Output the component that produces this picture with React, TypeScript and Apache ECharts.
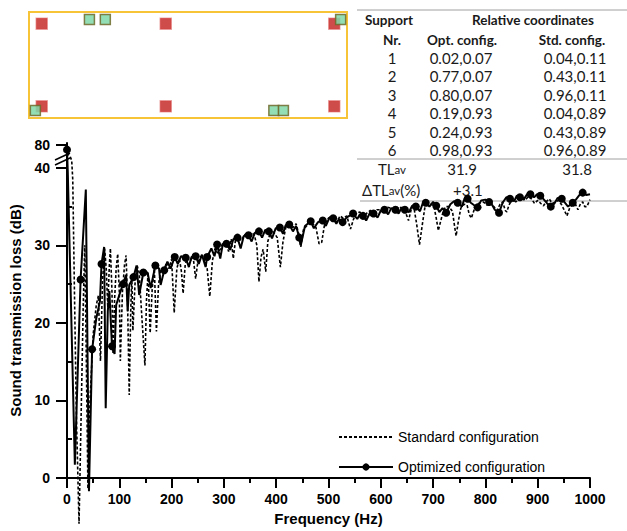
import React, { useEffect, useRef } from "react";
import * as echarts from "echarts";

// ---------- Data ----------
// Optimized configuration (solid line with markers)
const optFreq = [0, 1.5, 15, 26, 36, 42, 48, 56, 63, 66, 71, 74, 78, 81, 86, 91, 94, 100, 107, 113, 116, 119, 127, 133, 138, 146, 154, 160, 169, 176, 179, 186, 192, 198, 206, 212, 218, 227, 233, 238, 246, 252, 258, 265, 268, 276, 282, 287, 293, 298, 305, 312, 318, 326, 332, 338, 347, 353, 359, 367, 373, 379, 386, 392, 399, 407, 413, 418, 425, 432, 438, 444, 447, 455, 466, 472, 480, 489, 495, 502, 509, 515, 520, 527, 535, 547, 555, 560, 566, 572, 580, 586, 594, 600, 607, 614, 620, 628, 634, 640, 646, 654, 660, 667, 675, 680, 686, 693, 700, 706, 712, 718, 725, 733, 740, 747, 755, 760, 766, 772, 778, 785, 792, 800, 807, 813, 818, 826, 833, 840, 847, 855, 860, 866, 873, 880, 886, 893, 899, 905, 912, 918, 925, 932, 938, 946, 952, 958, 967, 973, 980, 986, 993, 1000];
const optTL = [72, 39.5, 1.7, 25.6, 37.2, -1.7, 16.6, 20.6, 22.8, 27.6, 29.8, 9.0, 21.5, 24.1, 17.0, 16.0, 22.3, 23.6, 25.0, 26.2, 21.5, 24.9, 25.9, 27.4, 23.6, 26.5, 26.5, 24.5, 27.4, 27.0, 24.9, 26.8, 27.9, 27.0, 28.5, 27.6, 28.6, 28.4, 27.2, 28.5, 28.6, 27.6, 28.8, 27.2, 28.5, 29.6, 28.6, 30.1, 28.3, 30.2, 30.2, 29.4, 30.8, 31.0, 29.6, 31.2, 31.3, 30.5, 31.6, 31.8, 31.0, 32.0, 31.8, 30.9, 32.2, 32.3, 31.5, 32.6, 32.7, 31.8, 32.5, 31.0, 30.0, 32.5, 33.1, 32.2, 33.0, 33.2, 32.5, 33.6, 33.5, 32.8, 33.4, 33.0, 33.6, 34.1, 33.4, 34.0, 33.8, 33.2, 34.3, 34.1, 33.6, 34.5, 34.6, 34.0, 34.8, 34.6, 34.1, 34.9, 34.6, 34.3, 35.1, 35.0, 34.4, 35.4, 35.5, 35.0, 35.6, 35.1, 34.3, 34.8, 34.2, 35.3, 35.7, 35.5, 35.0, 36.0, 36.0, 35.5, 35.2, 34.9, 35.8, 35.9, 35.6, 35.2, 34.6, 34.2, 35.5, 36.2, 36.0, 35.7, 36.4, 36.2, 35.9, 36.6, 36.6, 36.2, 36.6, 36.4, 35.9, 35.4, 35.0, 35.4, 36.1, 36.0, 35.5, 35.0, 35.5, 35.9, 36.5, 36.8, 36.5, 36.6];
const optMarkerFreq = [0, 26, 48, 66, 86, 107, 127, 146, 169, 186, 206, 227, 246, 268, 287, 305, 326, 347, 367, 386, 407, 425, 444, 466, 489, 509, 527, 547, 566, 586, 607, 628, 646, 667, 686, 706, 725, 747, 766, 785, 807, 826, 847, 866, 886, 905, 925, 946, 967, 986];

// Standard configuration (dashed line)
const stdFreq = [0, 6, 9, 11, 14, 18, 23, 27, 31, 34, 37, 40, 44, 50, 56, 60, 64, 68, 72, 75, 78, 81, 83, 86, 88, 91, 94, 97, 100, 102, 106, 110, 113, 116, 119, 122, 124, 126, 130, 134, 138, 142, 149, 152, 155, 159, 163, 167, 171, 175, 180, 185, 190, 195, 200, 205, 210, 215, 219, 222, 226, 230, 236, 241, 246, 250, 256, 262, 268, 273, 278, 283, 288, 293, 298, 303, 309, 314, 318, 322, 327, 333, 340, 346, 352, 358, 363, 367, 371, 375, 380, 384, 390, 396, 402, 408, 413, 419, 425, 432, 438, 443, 447, 452, 458, 463, 470, 476, 482, 487, 492, 498, 504, 510, 516, 522, 528, 535, 542, 548, 554, 560, 567, 574, 580, 586, 593, 600, 606, 613, 620, 627, 634, 640, 646, 653, 658, 663, 668, 674, 679, 684, 690, 696, 702, 706, 710, 714, 719, 724, 730, 737, 741, 744, 748, 753, 759, 765, 769, 773, 778, 784, 790, 796, 803, 810, 816, 822, 828, 833, 838, 841, 845, 852, 858, 864, 870, 876, 882, 888, 894, 900, 906, 911, 916, 922, 928, 934, 940, 946, 951, 956, 961, 966, 972, 977, 982, 986, 990, 994, 1000];
const stdTL = [66, 60, 53, 38.5, 25, 8, -5.9, 8, 22, 30.0, 15, -1.4, 10, 18.5, 22.3, 23.5, 15.1, 25.5, 29.6, 27, 22, 27.5, 29.6, 24, 16.0, 23, 27, 28.9, 24, 15.1, 24, 27.5, 28.7, 22, 10.7, 22, 26, 19.0, 25, 27.4, 26.5, 22, 14.5, 23, 26.5, 18.7, 24.5, 27, 18.9, 25, 27, 26.5, 27.8, 27, 28.2, 21.3, 27, 28.3, 26.5, 23.8, 27.5, 28.4, 28, 28.6, 25.7, 27.8, 28.6, 28.2, 27, 23.4, 28, 29.6, 29.0, 29.5, 30.3, 30.5, 29.2, 30.8, 28.3, 30.6, 31.2, 30.6, 31.4, 31.2, 31.6, 31.4, 30, 25.3, 28.5, 29.5, 26.6, 30.5, 32.0, 31.6, 31.0, 27.2, 30.5, 32.5, 32.6, 32.3, 32.8, 31.5, 29.8, 32.0, 32.5, 33.0, 32.8, 32.3, 30.2, 30.4, 32.5, 33.4, 33.7, 33.4, 33.0, 33.8, 33.5, 33.8, 32.1, 33.4, 34.2, 34.3, 33.7, 34.2, 34.5, 34.2, 34.6, 34.6, 34.2, 34.9, 34.8, 34.5, 35.0, 34.8, 34.5, 33.2, 34.6, 35.0, 33.0, 30.1, 32.5, 34.8, 35.3, 35.4, 34.9, 33.5, 31.9, 33.0, 34.3, 35.0, 35.0, 34.4, 32.5, 31.2, 33, 34.8, 35.3, 35.2, 34.0, 33.5, 34.5, 35.3, 35.5, 35.6, 35.2, 35.6, 35.0, 34.5, 35.3, 35.6, 34.5, 34.3, 35.2, 36.0, 35.6, 35.9, 36.2, 35.8, 36.3, 36.0, 35.4, 35.8, 35.4, 35.1, 35.6, 36.0, 35.4, 35.6, 35.8, 35.2, 34.5, 33.8, 34.8, 35.3, 35.3, 34.6, 35.4, 35.6, 35.0, 35.0, 35.9];

// Table / inset: relative support coordinates
const supportNr = [1, 2, 3, 4, 5, 6];
const optX = [0.02, 0.77, 0.80, 0.19, 0.24, 0.98];
const optY = [0.07, 0.07, 0.07, 0.93, 0.93, 0.93];
const stdX = [0.04, 0.43, 0.96, 0.04, 0.43, 0.96];
const stdY = [0.11, 0.11, 0.11, 0.89, 0.89, 0.89];
const tlAvg = [31.9, 31.8]; // optimized, standard
const deltaTL = "+3.1";

// y tick labels (with axis break between 40 and 80)
const yMajorTicks = [0, 10, 20, 30, 40, 80];
const yMinorTicks = [5, 15, 25, 35];

// ---------- Helpers ----------
const BREAK_FROM = 40;
const BREAK_SCALE = 2.93 / 40; // 40..80 compressed into 2.93 display units
const disp = (v: number) => (v <= BREAK_FROM ? v : BREAK_FROM + (v - BREAK_FROM) * BREAK_SCALE);
const undisp = (d: number) => (d <= BREAK_FROM + 0.01 ? d : BREAK_FROM + (d - BREAK_FROM) / BREAK_SCALE);

const AXIS_FONT = '"Liberation Sans", Arial, sans-serif';
const TABLE_FONT = 'Lato, "Open Sans", sans-serif';

export default function App() {
  const ref = useRef<HTMLDivElement>(null);

  useEffect(() => {
    if (!ref.current) return;
    const chart = echarts.init(ref.current, undefined, { renderer: "svg" });

    const markerSet = new Set(optMarkerFreq);
    const optData = optFreq.map((f, i) => ({
      value: [f, disp(optTL[i])],
      symbol: markerSet.has(f) ? "circle" : "none",
    }));
    const stdData = stdFreq.map((f, i) => [f, disp(stdTL[i])]);

    const fmt = (v: number) => v.toFixed(2);

    const txt = (text: string, x: number, y: number, opts: any = {}) => ({
      type: "text",
      x,
      y,
      silent: true,
      style: {
        text,
        fill: "#1a1a1a",
        fontFamily: TABLE_FONT,
        fontSize: opts.bold ? 13.5 : 15,
        fontWeight: opts.bold ? "bold" : "normal",
        align: opts.align || "center",
        verticalAlign: "middle",
        rich: opts.rich,
      },
    });

    const rowY0 = 58;
    const rowStep = 18.4;
    const graphics: any[] = [
      { type: "line", silent: true, shape: { x1: 357, y1: 10, x2: 627, y2: 10 }, style: { stroke: "#a0a0a0", lineWidth: 1 } },
      { type: "line", silent: true, shape: { x1: 357, y1: 159, x2: 627, y2: 159 }, style: { stroke: "#a0a0a0", lineWidth: 1 } },
      { type: "line", silent: true, shape: { x1: 360, y1: 201, x2: 627, y2: 201 }, style: { stroke: "#a0a0a0", lineWidth: 1 } },
      txt("Support", 389, 20, { bold: true }),
      txt("Relative coordinates", 533, 20, { bold: true }),
      txt("Nr.", 392, 40, { bold: true }),
      txt("Opt. config.", 462, 40, { bold: true }),
      txt("Std. config.", 572, 40, { bold: true }),
    ];
    supportNr.forEach((n, i) => {
      const y = rowY0 + i * rowStep;
      graphics.push(txt(String(n), 392, y));
      graphics.push(txt(`${fmt(optX[i])},${fmt(optY[i])}`, 461, y));
      graphics.push(txt(`${fmt(stdX[i])},${fmt(stdY[i])}`, 575, y));
    });
    const richTL = {
      a: { fontFamily: TABLE_FONT, fontSize: 15, fill: "#1a1a1a" },
      b: { fontFamily: TABLE_FONT, fontSize: 11.5, fill: "#1a1a1a" },
    };
    graphics.push(txt("{a|TL}{b|av}", 392, 169, { rich: richTL }));
    graphics.push(txt(tlAvg[0].toFixed(1), 462, 169));
    graphics.push(txt(tlAvg[1].toFixed(1), 577, 169));
    graphics.push(txt("{a|ΔTL}{b|av}{a|(%)}", 362, 190, { rich: richTL, align: "left" }));
    graphics.push(txt(deltaTL, 453, 190, { align: "left" }));
    // axis break marks
    graphics.push({ type: "line", silent: true, shape: { x1: 55, y1: 165, x2: 70, y2: 158 }, style: { stroke: "#000", lineWidth: 1.5 } });
    graphics.push({ type: "line", silent: true, shape: { x1: 55, y1: 160, x2: 70, y2: 153 }, style: { stroke: "#000", lineWidth: 1.5 } });

    const tickStyle = { color: "#000", width: 2 };

    chart.setOption({
      animation: false,
      backgroundColor: "#fff",
      grid: [
        { left: 62, top: 143, width: 528, height: 339, containLabel: false },
        { left: 29, top: 12, width: 318, height: 106, show: true, borderColor: "#f8c437", borderWidth: 2, backgroundColor: "transparent" },
      ],
      xAxis: [
        {
          type: "value",
          gridIndex: 0,
          min: 0,
          max: 1000,
          interval: 100,
          axisLine: { show: true, onZero: false, lineStyle: { color: "#000", width: 2 } },
          axisTick: { show: true, length: 10, lineStyle: tickStyle },
          minorTick: { show: true, splitNumber: 2, length: 5, lineStyle: tickStyle },
          axisLabel: {
            color: "#000",
            fontFamily: AXIS_FONT,
            fontWeight: "bold",
            fontSize: 14,
            margin: 14,
            formatter: (v: number) => String(Math.round(v)),
          },
          splitLine: { show: false },
          name: "Frequency (Hz)",
          nameLocation: "middle",
          nameGap: 33,
          nameTextStyle: { color: "#000", fontFamily: AXIS_FONT, fontWeight: "bold", fontSize: 15 },
        },
        { type: "value", gridIndex: 1, min: 0, max: 1, show: false, splitLine: { show: false } },
      ],
      yAxis: [
        {
          type: "value",
          gridIndex: 0,
          min: 0,
          max: 43.2,
          axisLine: { show: true, onZero: false, lineStyle: { color: "#000", width: 2 } },
          axisTick: { show: true, length: 11, lineStyle: tickStyle, customValues: yMajorTicks.map(disp) },
          axisLabel: {
            customValues: yMajorTicks.map(disp),
            formatter: (v: number) => String(Math.round(undisp(v))),
            color: "#000",
            fontFamily: AXIS_FONT,
            fontWeight: "bold",
            fontSize: 14,
            margin: 17,
          },
          splitLine: { show: false },
          name: "Sound transmission loss (dB)",
          nameLocation: "middle",
          nameGap: 44,
          nameRotate: 90,
          nameTextStyle: { color: "#000", fontFamily: AXIS_FONT, fontWeight: "bold", fontSize: 15 },
        },
        {
          type: "value",
          gridIndex: 0,
          min: 0,
          max: 43.2,
          axisLine: { show: false },
          axisTick: { show: true, length: 5, lineStyle: tickStyle, customValues: yMinorTicks },
          axisLabel: { show: false },
          splitLine: { show: false },
        },
        { type: "value", gridIndex: 1, min: 0, max: 1, show: false, splitLine: { show: false } },
      ],
      legend: {
        data: [
          { name: "Standard configuration", itemStyle: { color: "rgba(0,0,0,0)", borderWidth: 0, opacity: 0 } },
          { name: "Optimized configuration" },
        ],
        orient: "vertical",
        left: 333,
        top: 425,
        itemWidth: 54,
        itemHeight: 9,
        itemGap: 16,
        textStyle: { color: "#000", fontFamily: AXIS_FONT, fontSize: 14 },
      },
      series: [
        {
          name: "Standard configuration",
          type: "line",
          xAxisIndex: 0,
          yAxisIndex: 0,
          data: stdData,
          symbol: "none",
          showSymbol: false,
          clip: false,
          itemStyle: { color: "#000" },
          lineStyle: { color: "#000", width: 1.6, type: [3, 2] },
          z: 2,
        },
        {
          name: "Optimized configuration",
          type: "line",
          xAxisIndex: 0,
          yAxisIndex: 0,
          data: optData,
          symbol: "circle",
          symbolSize: 8,
          showSymbol: true,
          clip: false,
          itemStyle: { color: "#000" },
          lineStyle: { color: "#000", width: 2 },
          z: 3,
        },
        {
          name: "Std supports",
          type: "scatter",
          xAxisIndex: 1,
          yAxisIndex: 2,
          symbol: "rect",
          symbolSize: 11,
          data: stdX.map((x, i) => [x, stdY[i]]),
          itemStyle: { color: "#c21f1b", borderColor: "rgba(215,60,60,0.55)", borderWidth: 1.5 },
          z: 2,
        },
        {
          name: "Opt supports",
          type: "scatter",
          xAxisIndex: 1,
          yAxisIndex: 2,
          symbol: "rect",
          symbolSize: 10,
          data: optX.map((x, i) => [x, optY[i]]),
          itemStyle: { color: "#80d8a8", borderColor: "#6e6a2a", borderWidth: 1.5, opacity: 0.85 },
          z: 3,
        },
      ],
      graphic: graphics,
    });

    return () => chart.dispose();
  }, []);

  return (
    <div
      ref={ref}
      style={{ position: "fixed", left: 0, top: 0, width: 627, height: 531, background: "#fff" }}
    />
  );
}
